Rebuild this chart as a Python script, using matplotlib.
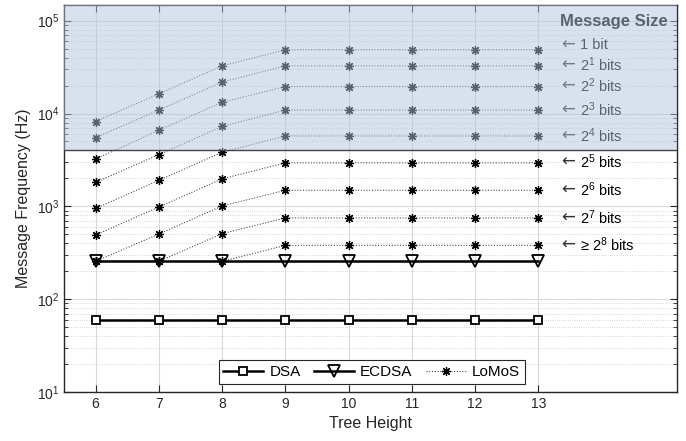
import numpy as np
import matplotlib
matplotlib.use('Agg')
import matplotlib.pyplot as plt
from matplotlib.ticker import LogLocator, NullFormatter

plt.rcParams['font.family'] = ['Liberation Sans', 'DejaVu Sans']
plt.rcParams['mathtext.fontset'] = 'custom'
plt.rcParams['mathtext.rm'] = 'Liberation Sans'
plt.rcParams['mathtext.it'] = 'Liberation Sans:italic'
plt.rcParams['mathtext.bf'] = 'Liberation Sans:bold'
plt.rcParams['mathtext.default'] = 'regular'

# data
heights = [6, 7, 8, 9, 10, 11, 12, 13]
dsa = [59, 59, 59, 59, 59, 59, 59, 59]
ecdsa = [256, 256, 256, 256, 256, 256, 256, 256]

lomos_1 = [8200, 16300, 32600, 48500, 48500, 48500, 48500, 48500]
lomos_2 = [5500, 10900, 21800, 32600, 32600, 32600, 32600, 32600]
lomos_4 = [3240, 6600, 13200, 19500, 19500, 19500, 19500, 19500]
lomos_8 = [1815, 3610, 7250, 10900, 10900, 10900, 10900, 10900]
lomos_16 = [951, 1905, 3830, 5730, 5730, 5730, 5730, 5730]
lomos_32 = [491, 985, 1977, 2940, 2940, 2940, 2940, 2940]
lomos_64 = [256, 503, 1010, 1489, 1489, 1489, 1489, 1489]
lomos_128 = [256, 256, 507, 750, 750, 750, 750, 750]
lomos_256 = [256, 256, 256, 380, 380, 380, 380, 380]

lomos_series = [lomos_1, lomos_2, lomos_4, lomos_8, lomos_16,
                lomos_32, lomos_64, lomos_128, lomos_256]
size_labels = ['1 bit', '$2^1$ bits', '$2^2$ bits', '$2^3$ bits',
               '$2^4$ bits', '$2^5$ bits', '$2^6$ bits', '$2^7$ bits',
               '≥ $2^8$ bits']
# small vertical nudges of the size labels, in points
label_dy = [3.5, 0.5, 0.5, 0.5, 0.5, 0.5, 0.5, 0.5, 0.5]

shade_low = 4000

fig = plt.figure(figsize=(6.86, 4.41), dpi=100)
ax = fig.add_axes([0.0933, 0.111, 0.894, 0.878])

star = (8, 2, 0)
for i, s in enumerate(lomos_series):
    ax.plot(heights, s, linestyle=':', color='#3a3a3a', lw=0.75,
            marker=star, markersize=6.5, mew=0.9, mec='black',
            label='LoMoS' if i == 0 else None, zorder=3)

ax.plot(heights, dsa, '-', color='black', lw=1.8, marker='s', markersize=6,
        mfc='white', mec='black', mew=1.3, label='DSA', zorder=4)
ax.plot(heights, ecdsa, '-', color='black', lw=1.8, marker='v', markersize=8,
        mfc='none', mec='black', mew=1.3, label='ECDSA', zorder=4)

for s, lab, dy in zip(lomos_series, size_labels, label_dy):
    ax.annotate('←', (13.36, s[-1]), xytext=(0, dy), textcoords='offset points',
                family=['DejaVu Sans'], fontsize=12, va='center', ha='left',
                zorder=3, color='#333333')
    ax.annotate(lab, (13.66, s[-1]), xytext=(0, dy), textcoords='offset points',
                fontsize=10.5, va='center', ha='left', zorder=3)

ax.text(0.984, 0.957, 'Message Size', transform=ax.transAxes, fontsize=12,
        fontweight='bold', ha='right', va='center', zorder=3)

ax.set_yscale('log')
ax.set_ylim(10, 1.48e5)
ax.set_xlim(5.5, 15.2)
ax.set_xticks(heights)

# shaded message-size band drawn over everything
ax.axhspan(shade_low, 1.48e5, facecolor=(0.70, 0.78, 0.88), alpha=0.5,
           edgecolor='none', zorder=10)
ax.axhline(shade_low, color='#444444', lw=1.0, zorder=11)

ax.yaxis.set_major_locator(LogLocator(base=10, numticks=10))
ax.yaxis.set_minor_locator(LogLocator(base=10, subs=np.arange(2, 10), numticks=20))
ax.yaxis.set_minor_formatter(NullFormatter())

ax.grid(True, which='major', color='#d9d9d9', lw=0.8, linestyle='-')
ax.grid(True, which='minor', axis='y', color='#cccccc', lw=0.6, linestyle=':')
ax.set_axisbelow(True)

ax.tick_params(which='both', direction='in', top=True, right=True,
               labelsize=10, colors='#262626')
ax.tick_params(which='major', length=5)
ax.tick_params(which='minor', length=3)
for sp in ax.spines.values():
    sp.set_color('#262626')
    sp.set_linewidth(1.0)

ax.set_xlabel('Tree Height', fontsize=11.5, color='#262626')
ax.set_ylabel('Message Frequency (Hz)', fontsize=11.5, color='#262626')

handles, labels = ax.get_legend_handles_labels()
order = [labels.index('DSA'), labels.index('ECDSA'), labels.index('LoMoS')]
leg = ax.legend([handles[k] for k in order], [labels[k] for k in order],
                loc='lower center', bbox_to_anchor=(0.502, 0.022), ncol=3,
                fontsize=11, frameon=True, fancybox=False, framealpha=1,
                edgecolor='#262626', handlelength=2.6, columnspacing=0.9,
                handletextpad=0.4, borderpad=0.3, borderaxespad=0.0)
leg.get_frame().set_linewidth(0.8)
leg.set_zorder(12)

fig.savefig('out.png', dpi=100)
